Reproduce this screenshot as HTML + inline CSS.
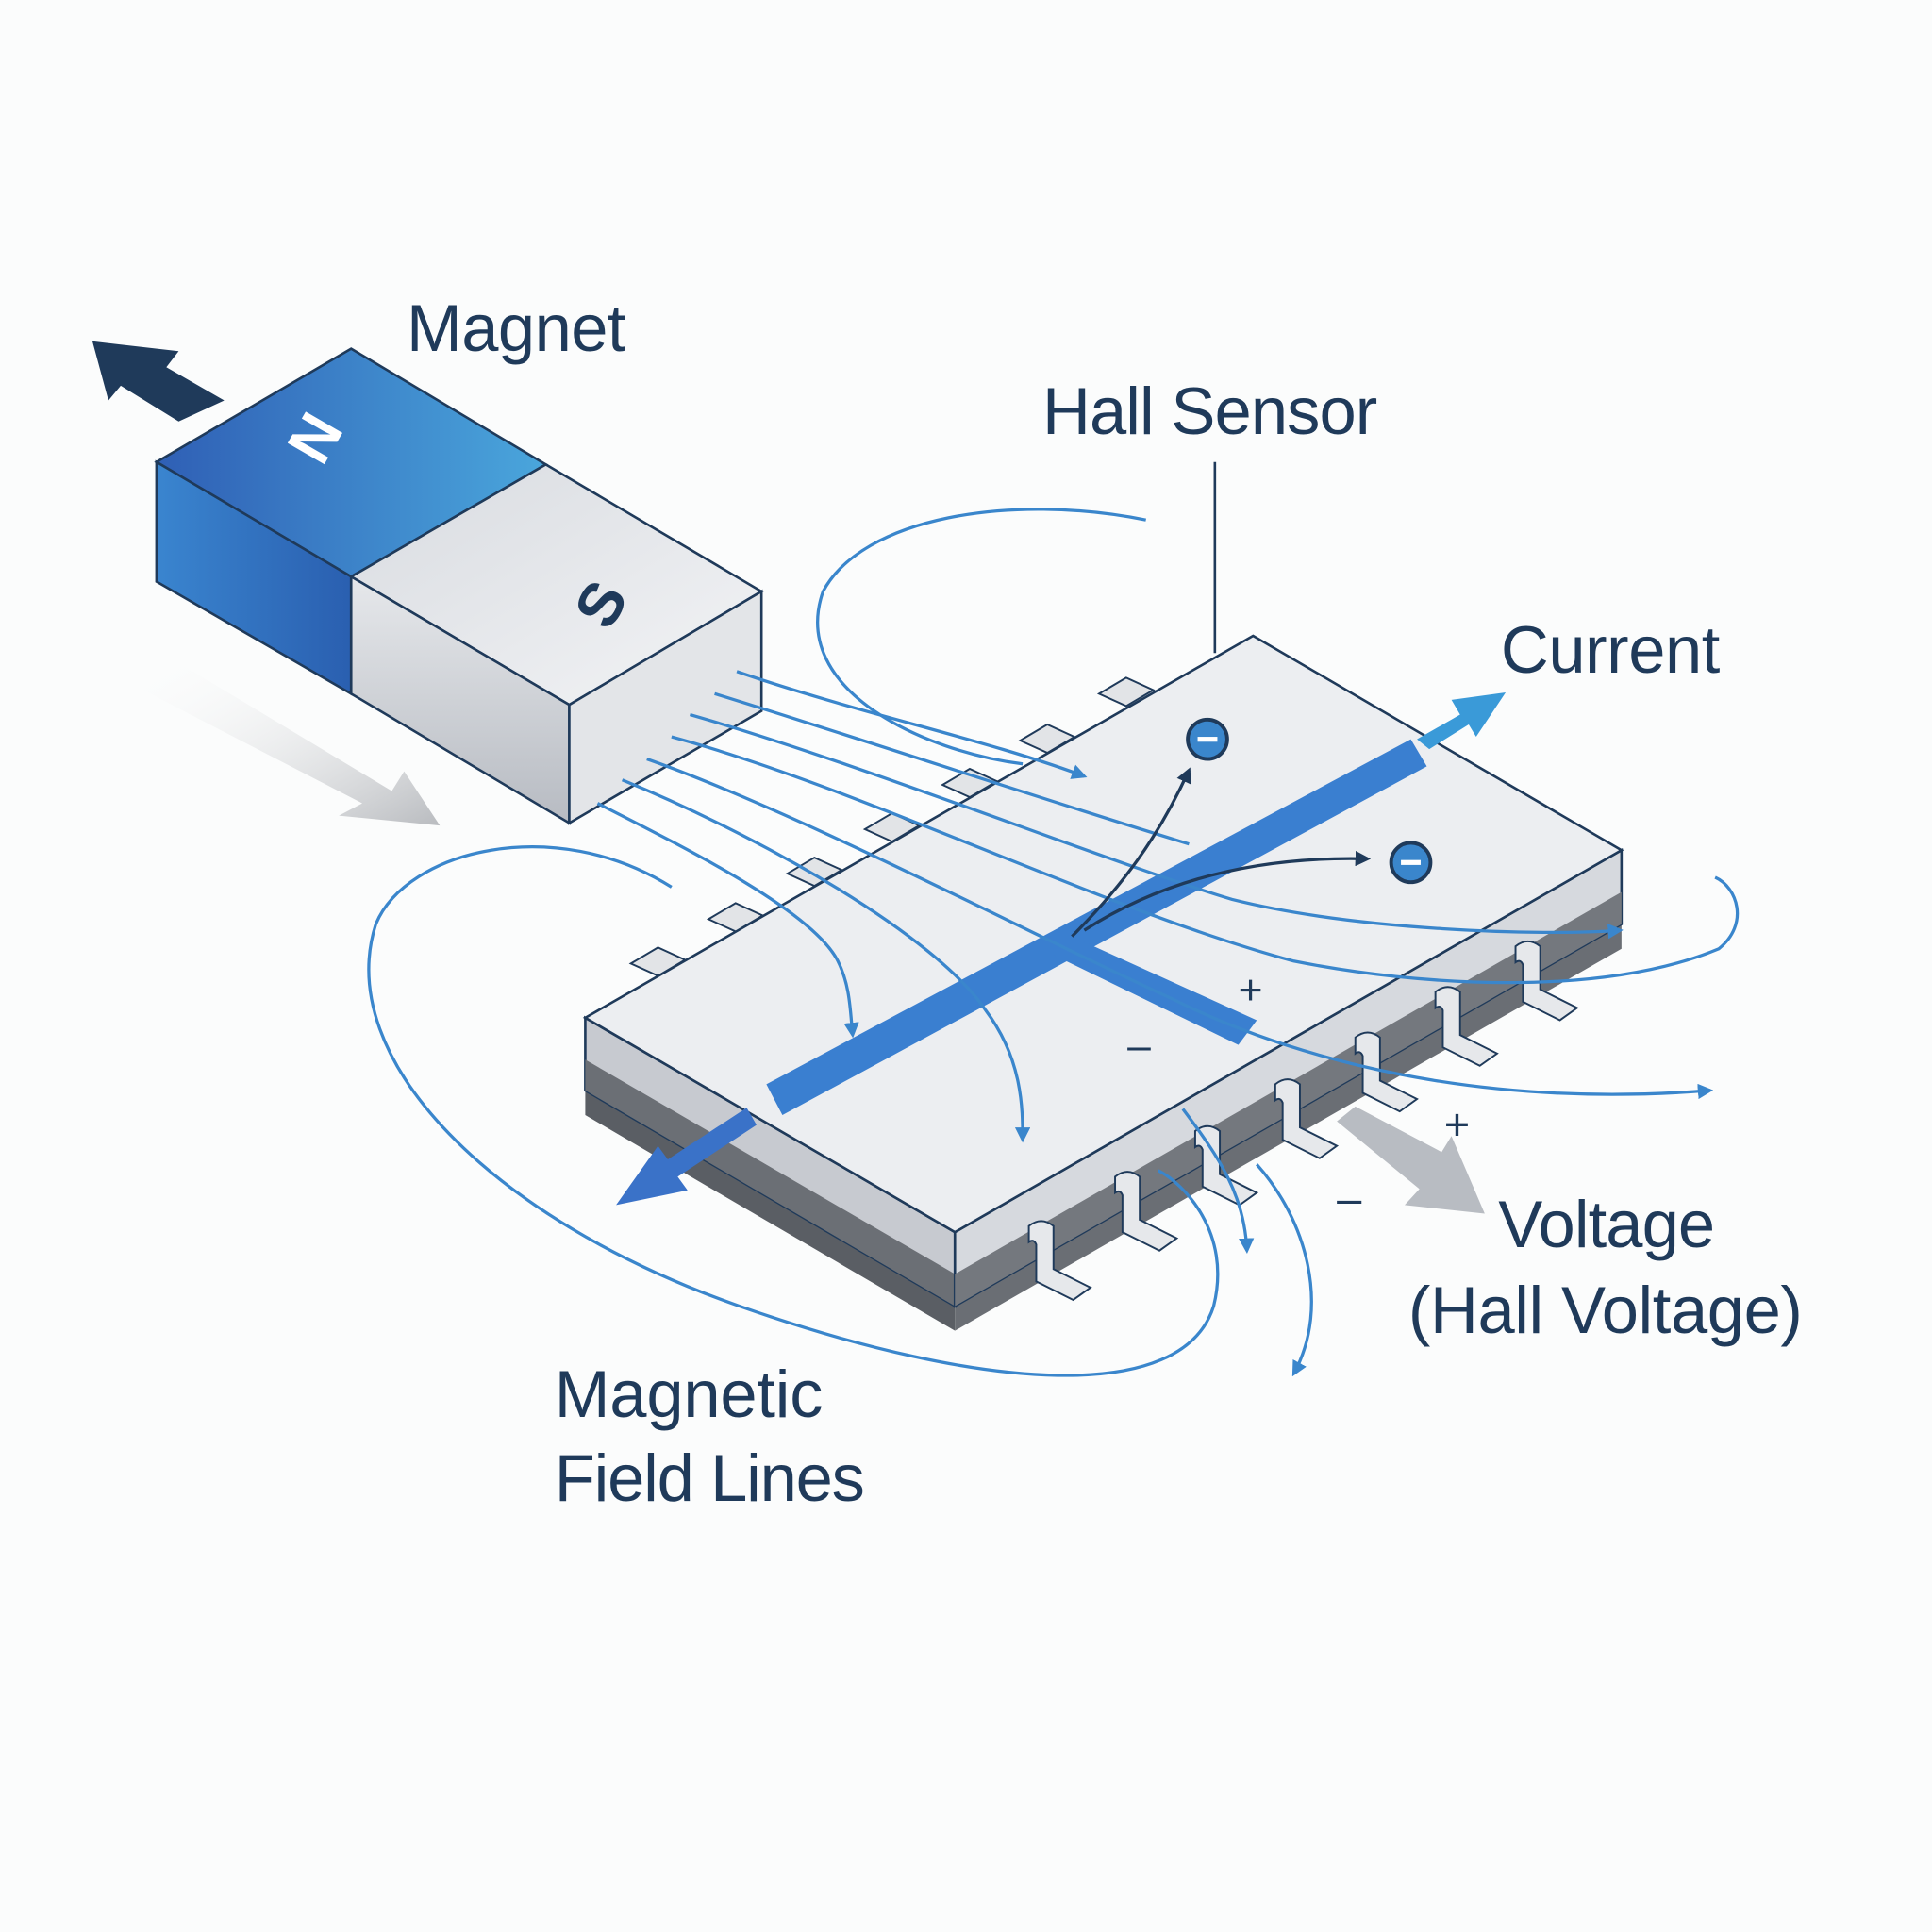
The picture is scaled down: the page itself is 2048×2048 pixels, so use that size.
<!DOCTYPE html>
<html><head><meta charset="utf-8"><style>
html,body{margin:0;padding:0;background:#fbfcfc}
svg{display:block}
text{font-family:"Liberation Sans",sans-serif;fill:#1f3a5a}
</style></head><body>
<svg width="2048" height="2048" viewBox="0 0 1568 1568" xmlns="http://www.w3.org/2000/svg">
<defs>
<linearGradient id="nt" x1="0" y1="0" x2="1" y2="0"><stop offset="0" stop-color="#2f5fb5"/><stop offset="1" stop-color="#4aa6dc"/></linearGradient>
<linearGradient id="ns" x1="0" y1="0" x2="1" y2="0"><stop offset="0" stop-color="#3a85cf"/><stop offset="1" stop-color="#2a5fb0"/></linearGradient>
<linearGradient id="st" x1="0" y1="0" x2="1" y2="1"><stop offset="0" stop-color="#d8dbe0"/><stop offset="1" stop-color="#f3f4f6"/></linearGradient>
<linearGradient id="ss" x1="0" y1="0" x2="0" y2="1"><stop offset="0" stop-color="#e6e8eb"/><stop offset="1" stop-color="#b7bbc2"/></linearGradient>
<linearGradient id="gr" x1="0" y1="0" x2="1" y2="1"><stop offset="0" stop-color="#fff" stop-opacity="0"/><stop offset="1" stop-color="#a8abb0"/></linearGradient>
<marker id="ab" viewBox="0 0 10 10" refX="8" refY="5" markerWidth="5" markerHeight="5" orient="auto"><path d="M0,0 L10,5 L0,10 z" fill="#3a86cc"/></marker>
<marker id="ad" viewBox="0 0 10 10" refX="8" refY="5" markerWidth="5" markerHeight="5" orient="auto"><path d="M0,0 L10,5 L0,10 z" fill="#1f3a5a"/></marker>
</defs>

<path d="M128,548 L140,535 L318,642 L328,626 L357,670 L275,662 L294,652 L116,560 Z" fill="url(#gr)" opacity="0.8"/>
<path d="M1085,910 L1100,898 L1170,935 L1178,922 L1205,985 L1140,978 L1152,965 Z" fill="#b8bcc2"/>

<path d="M182,325 L135,298 L145,285 L75,277 L88,325 L98,313 L145,342 Z" fill="#1f3a5a"/>

<polygon points="127,375 285,283 443,377 285,468" fill="url(#nt)" stroke="#1f3a5a" stroke-width="2"/>
<polygon points="285,468 443,377 618,480 462,572" fill="url(#st)" stroke="#1f3a5a" stroke-width="2"/>
<polygon points="127,375 285,468 285,563 127,472" fill="url(#ns)" stroke="#1f3a5a" stroke-width="2"/>
<polygon points="285,468 462,572 462,668 285,563" fill="url(#ss)" stroke="#1f3a5a" stroke-width="2"/>
<polygon points="462,572 618,480 618,577 462,668" fill="#e3e5e8" stroke="#1f3a5a" stroke-width="2"/>
<text x="255" y="373" font-size="50" font-weight="bold" style="fill:#fff" transform="rotate(-60 255 355)" text-anchor="middle">N</text>
<text x="487" y="508" font-size="50" font-weight="bold" style="fill:#1f3a5a" transform="rotate(-60 487 490)" text-anchor="middle">S</text>

<polygon points="475,885 775,1060 775,1080 475,905" fill="#5a5e64"/>
<polygon points="775,1060 1316,750 1316,770 775,1080" fill="#6a6e74"/>
<polygon points="475,826 775,1000 775,1060 475,885" fill="#c7cad0" stroke="#1f3a5a" stroke-width="2"/>
<polygon points="475,860 775,1034 775,1060 475,885" fill="#6b6f75"/>
<polygon points="775,1000 1316,690 1316,750 775,1060" fill="#d6d9de" stroke="#1f3a5a" stroke-width="2"/>
<polygon points="775,1034 1316,724 1316,750 775,1060" fill="#74787e"/>
<polygon points="475,826 1017,516 1316,690 775,1000" fill="#eceef1" stroke="#1f3a5a" stroke-width="2"/>
<g fill="#e2e4e7" stroke="#1f3a5a" stroke-width="1.5">
<path d="M892,563 l22,-13 l22,10 l-22,13z"/><path d="M828,601 l22,-13 l22,10 l-22,13z"/>
<path d="M765,637 l22,-13 l22,10 l-22,13z"/><path d="M702,673 l22,-13 l22,10 l-22,13z"/>
<path d="M639,709 l22,-13 l22,10 l-22,13z"/><path d="M575,746 l22,-13 l22,10 l-22,13z"/>
<path d="M512,782 l22,-13 l22,10 l-22,13z"/>
</g>
<g fill="#e6e8eb" stroke="#1f3a5a" stroke-width="1.5">
<path d="M835,995 q10,-8 20,0 l0,35 l30,15 l-14,10 l-30,-15 l0,-30 q-2,-5 -6,-2z"/>
<path d="M905,955 q10,-8 20,0 l0,35 l30,15 l-14,10 l-30,-15 l0,-30 q-2,-5 -6,-2z"/>
<path d="M970,918 q10,-8 20,0 l0,35 l30,15 l-14,10 l-30,-15 l0,-30 q-2,-5 -6,-2z"/>
<path d="M1035,880 q10,-8 20,0 l0,35 l30,15 l-14,10 l-30,-15 l0,-30 q-2,-5 -6,-2z"/>
<path d="M1100,842 q10,-8 20,0 l0,35 l30,15 l-14,10 l-30,-15 l0,-30 q-2,-5 -6,-2z"/>
<path d="M1165,805 q10,-8 20,0 l0,35 l30,15 l-14,10 l-30,-15 l0,-30 q-2,-5 -6,-2z"/>
<path d="M1230,768 q10,-8 20,0 l0,35 l30,15 l-14,10 l-30,-15 l0,-30 q-2,-5 -6,-2z"/>
</g>
<polygon points="622,880 1145,600 1158,622 635,905" fill="#3a7fd0"/>
<polygon points="855,775 870,760 1020,828 1005,848" fill="#3a7fd0"/>
<text x="1005" y="815" font-size="34">+</text>
<text x="915" y="860" font-size="34">–</text>

<path d="M1150,600 L1185,580 L1178,568 L1222,562 L1198,598 L1192,588 L1160,608 Z" fill="#3a9ad8"/>
<polygon points="614,913 550,955 558,966 500,978 534,930 542,941 606,899" fill="#3a72c8"/>

<g fill="none" stroke="#3a86cc" stroke-width="2.5">
<path d="M598,545 C700,580 800,600 880,630" marker-end="url(#ab)"/>
<path d="M580,563 C700,600 850,650 965,685"/>
<path d="M560,580 C700,620 900,700 1000,730 C1100,755 1250,760 1315,755" marker-end="url(#ab)"/>
<path d="M545,598 C700,640 900,740 1050,780 C1150,800 1300,810 1395,770 C1420,750 1410,720 1392,712"/>
<path d="M525,616 C650,660 840,760 950,810 C1050,860 1200,900 1388,885" marker-end="url(#ab)"/>
<path d="M505,633 C620,680 760,760 800,820 C830,860 830,900 830,925" marker-end="url(#ab)"/>
<path d="M485,652 C560,690 660,740 680,780 C690,800 690,820 692,840" marker-end="url(#ab)"/>
<path d="M930,422 C820,400 700,420 668,480 C640,560 750,610 830,620"/>
<path d="M545,720 C450,660 330,690 305,750 C270,860 400,990 600,1060 C800,1130 960,1140 985,1060 C1000,1000 960,960 940,950"/>
<path d="M960,900 C990,940 1010,970 1012,1015" marker-end="url(#ab)"/>
<path d="M1020,945 C1060,990 1080,1060 1050,1115" marker-end="url(#ab)"/>
</g>

<g fill="none" stroke="#1f3a5a" stroke-width="2.5">
<path d="M870,760 C910,720 940,680 965,625" marker-end="url(#ad)"/>
<path d="M880,755 C950,710 1030,695 1110,697" marker-end="url(#ad)"/>
</g>
<g><circle cx="980" cy="600" r="16" fill="#3a86cc" stroke="#1f3a5a" stroke-width="3"/><rect x="972" y="598" width="16" height="4" fill="#fff"/>
<circle cx="1145" cy="700" r="16" fill="#3a86cc" stroke="#1f3a5a" stroke-width="3"/><rect x="1137" y="698" width="16" height="4" fill="#fff"/></g>

<line x1="986" y1="375" x2="986" y2="530" stroke="#1f3a5a" stroke-width="2"/>

<text x="330" y="285" font-size="54" textLength="178">Magnet</text>
<text x="846" y="352" font-size="54" textLength="272">Hall Sensor</text>
<text x="1218" y="546" font-size="54" textLength="178">Current</text>
<text x="1216" y="1012" font-size="54" textLength="176">Voltage</text>
<text x="1143" y="1082" font-size="54" textLength="320">(Hall Voltage)</text>
<text x="450" y="1150" font-size="54" textLength="218">Magnetic</text>
<text x="450" y="1218" font-size="54" textLength="252">Field Lines</text>
<text x="1172" y="925" font-size="36">+</text>
<text x="1085" y="985" font-size="36">–</text>
</svg>
</body></html>
